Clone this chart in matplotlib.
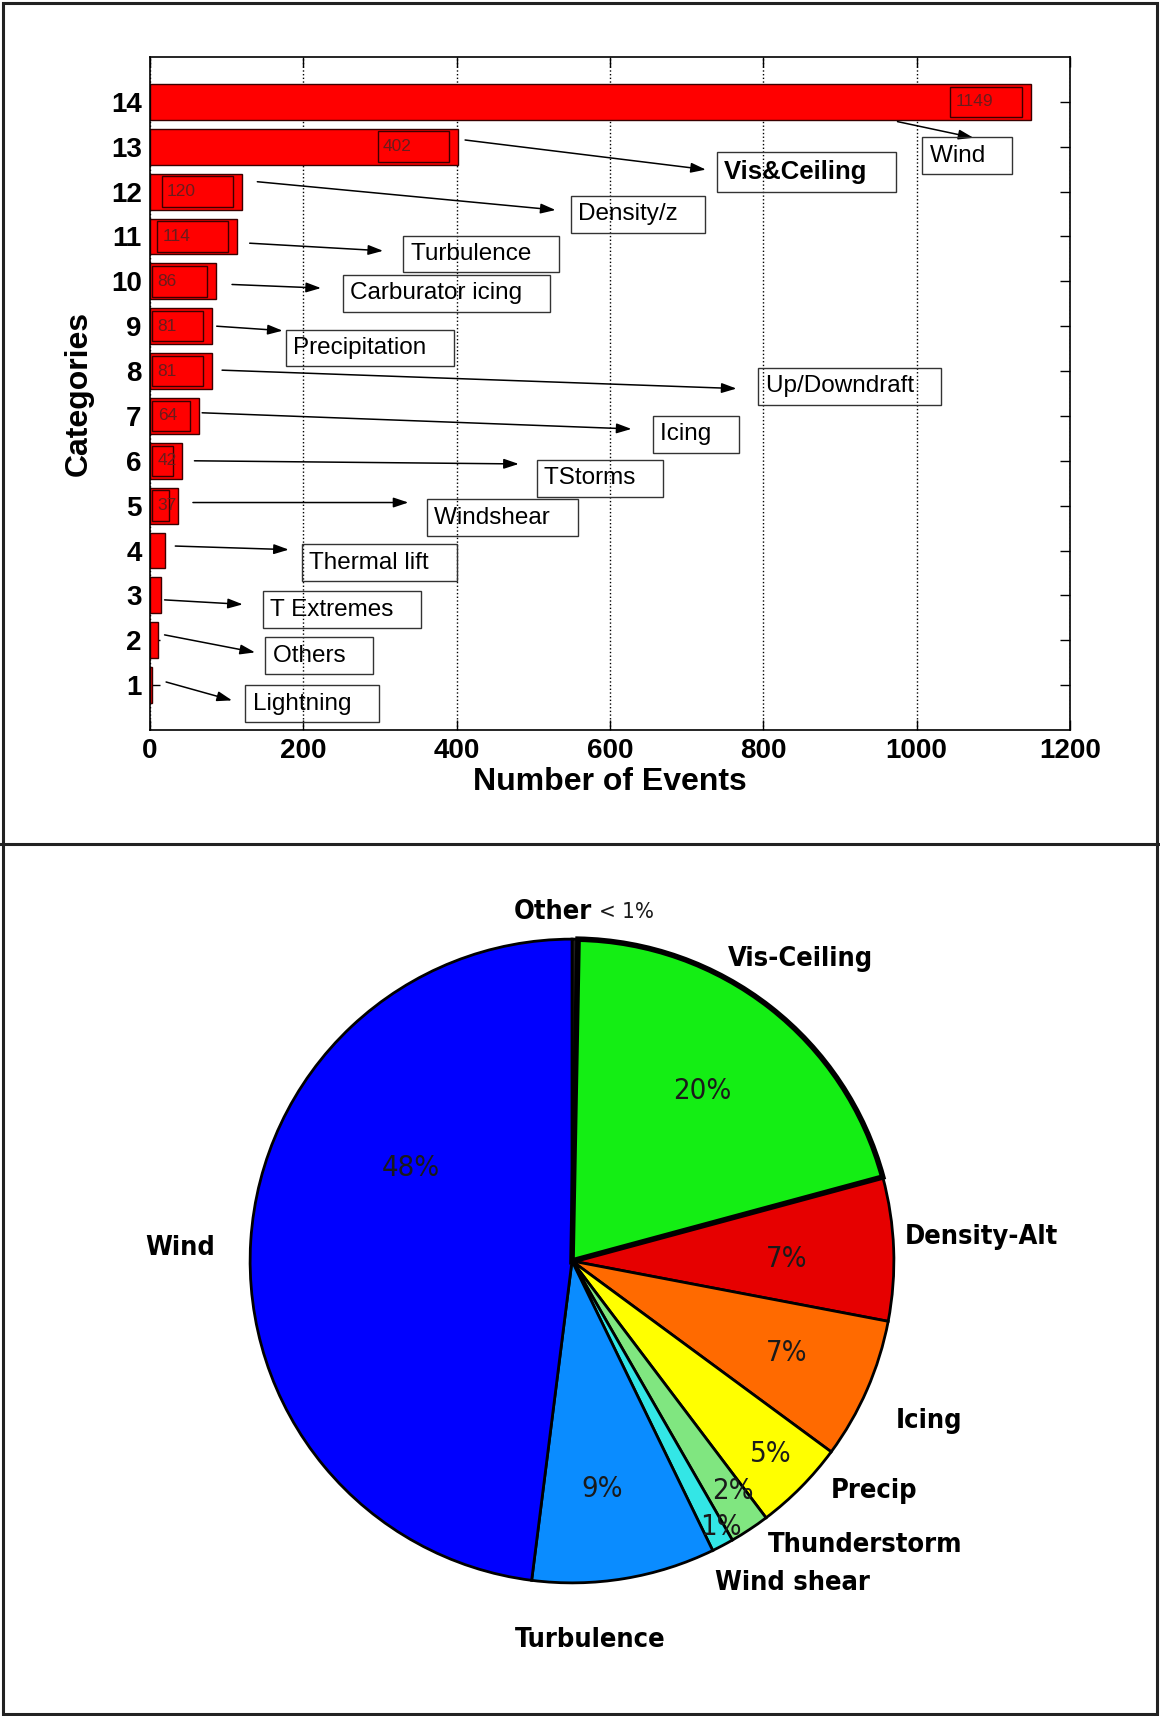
import matplotlib.pyplot as plt
from matplotlib.patches import Rectangle
from matplotlib.lines import Line2D

# datos de las barras (categorias 1..14)
categorias = list(range(1, 15))
eventos = [3, 10, 14, 20, 37, 42, 64, 81, 81, 86, 114, 120, 402, 1149]
nombres = ["Lightning", "Others", "T Extremes", "Thermal lift", "Windshear", "TStorms",
           "Icing", "Up/Downdraft", "Precipitation", "Carburator icing", "Turbulence",
           "Density/z", "Vis&Ceiling", "Wind"]
xticks = [0, 200, 400, 600, 800, 1000, 1200]

# posiciones de flechas y etiquetas (unidades de datos)
flecha_ini = [(21, 1.07), (19, 2.12), (19, 2.9), (33, 4.1), (56, 5.07), (58, 6.0),
              (68, 7.07), (94, 8.02), (87, 9.0), (107, 9.93), (130, 10.85),
              (140, 12.22), (411, 13.15), (975, 13.56)]
flecha_fin = [(107, 0.66), (137, 1.73), (121, 2.8), (181, 4.02), (337, 5.07), (481, 5.93),
              (628, 6.71), (765, 7.61), (173, 8.9), (223, 9.85), (304, 10.68),
              (529, 11.59), (725, 12.49), (1074, 13.2)]
etiqueta_pos = [(134, 0.59), (160, 1.66), (157, 2.68), (208, 3.73), (371, 4.73), (514, 5.61),
                (665, 6.59), (803, 7.66), (187, 8.51), (261, 9.73), (340, 10.61),
                (558, 11.49), (749, 12.44), (1017, 12.8)]

# datos del pastel (sentido horario desde arriba)
pie_nombres = ["Other", "Vis-Ceiling", "Density-Alt", "Icing", "Precip",
               "Thunderstorm", "Wind shear", "Turbulence", "Wind"]
pie_valores = [0.3, 20.5, 7.2, 7.1, 4.6, 2.0, 1.1, 9.2, 48.0]
pie_textos = ["< 1%", "20%", "7%", "7%", "5%", "2%", "1%", "9%", "48%"]
pie_colores = ["#202020", "#14ee14", "#e60000", "#ff6a00", "#ffff00",
               "#80e680", "#33e6e6", "#0a8cff", "#0000ff"]
pct_pos = [(0.17, 1.085), (0.405, 0.527), (0.667, 0.007), (0.667, -0.286), (0.616, -0.599),
           (0.50, -0.714), (0.463, -0.827), (0.095, -0.707), (-0.5, 0.289)]
nombre_pos = [(-0.06, 1.085), (0.711, 0.939), (1.272, 0.075), (1.109, -0.497),
              (0.939, -0.714), (0.912, -0.881), (0.684, -1.0), (0.058, -1.177),
              (-1.218, 0.041)]

plt.rcParams["font.family"] = ["Liberation Sans", "DejaVu Sans"]

fig = plt.figure(figsize=(11.6, 17.16), dpi=100)

# marco exterior y separador
fig.add_artist(Rectangle((3 / 1160, 2 / 1716), 1154 / 1160, 1711 / 1716, transform=fig.transFigure,
                         fill=False, ec="#222222", lw=2.2))
fig.add_artist(Line2D([0, 1], [1 - 844 / 1716] * 2, transform=fig.transFigure, color="#222222", lw=2.2))

# ---- grafico de barras ----
ax = fig.add_axes([150 / 1160, 1 - 730 / 1716, 920 / 1160, 673 / 1716])
ax.barh(categorias, eventos, height=0.8, color="#ff0000", edgecolor="#3a0000", linewidth=1, zorder=2)

for c, v in zip(categorias, eventos):
    if v < 30:
        continue
    x0 = max(v - 105, 3)
    x1 = v - 12
    ax.add_patch(Rectangle((x0, c - 0.34), x1 - x0, 0.68, fill=False, ec="#3a0000", lw=1, zorder=3))
    ax.text(x0 + 7, c, str(v), fontsize=12.5, color="#6a1c1c", va="center", ha="left", zorder=4)

for nom, p0, p1, pe in zip(nombres, flecha_ini, flecha_fin, etiqueta_pos):
    ax.annotate("", xy=p1, xytext=p0,
                arrowprops=dict(arrowstyle="-|>,head_length=0.9,head_width=0.3", color="k", lw=1.1,
                                shrinkA=0, shrinkB=0), zorder=5)
    peso = "bold" if nom == "Vis&Ceiling" else "normal"
    tam = 18.5 if nom == "Vis&Ceiling" else 17.5
    ax.text(pe[0], pe[1], nom + "   ", fontsize=tam, fontweight=peso, ha="left", va="center",
            bbox=dict(boxstyle="square,pad=0.3", fc="none", ec="#333333", lw=1), zorder=5)

ax.set_xlim(0, 1200)
ax.set_ylim(0, 15)
ax.set_xticks(xticks)
ax.set_yticks(categorias)
ax.tick_params(direction="in", top=True, right=True, length=7, width=1, labelsize=20, pad=6)
for t in ax.get_xticklabels() + ax.get_yticklabels():
    t.set_fontweight("bold")
ax.grid(axis="x", linestyle=":", color="k", lw=1, zorder=1)
ax.set_axisbelow(True)
ax.set_xlabel("Number of Events", fontsize=23, fontweight="heavy", labelpad=2)
ax.set_ylabel("Categories", fontsize=23, fontweight="heavy", labelpad=12)
for s in ax.spines.values():
    s.set_linewidth(1.2)

# ---- grafico de pastel ----
ax2 = fig.add_axes([57 / 1160, 20 / 1716, 1030 / 1160, 870 / 1716])
wedges, _ = ax2.pie(pie_valores, colors=pie_colores, startangle=90, counterclock=False,
                    radius=1, wedgeprops=dict(edgecolor="k", linewidth=2))
wedges[1].set_linewidth(4)
wedges[1].set_zorder(3)

for i, (txt, pos) in enumerate(zip(pie_textos, pct_pos)):
    ax2.text(pos[0], pos[1], txt, fontsize=16 if i == 0 else 21, family="DejaVu Sans",
             fontstretch="condensed", color="#1a1a1a", ha="center", va="center", zorder=5)
for nom, pos in zip(pie_nombres, nombre_pos):
    ax2.text(pos[0], pos[1], nom, fontsize=19.5, family="DejaVu Sans", fontstretch="condensed",
             fontweight="bold", ha="center", va="center", zorder=5)

ax2.set_xlim(-1.6, 1.6)
ax2.set_ylim(-1.35, 1.35)
ax2.set_aspect("equal")
ax2.axis("off")

plt.savefig("out.png", dpi=100)
